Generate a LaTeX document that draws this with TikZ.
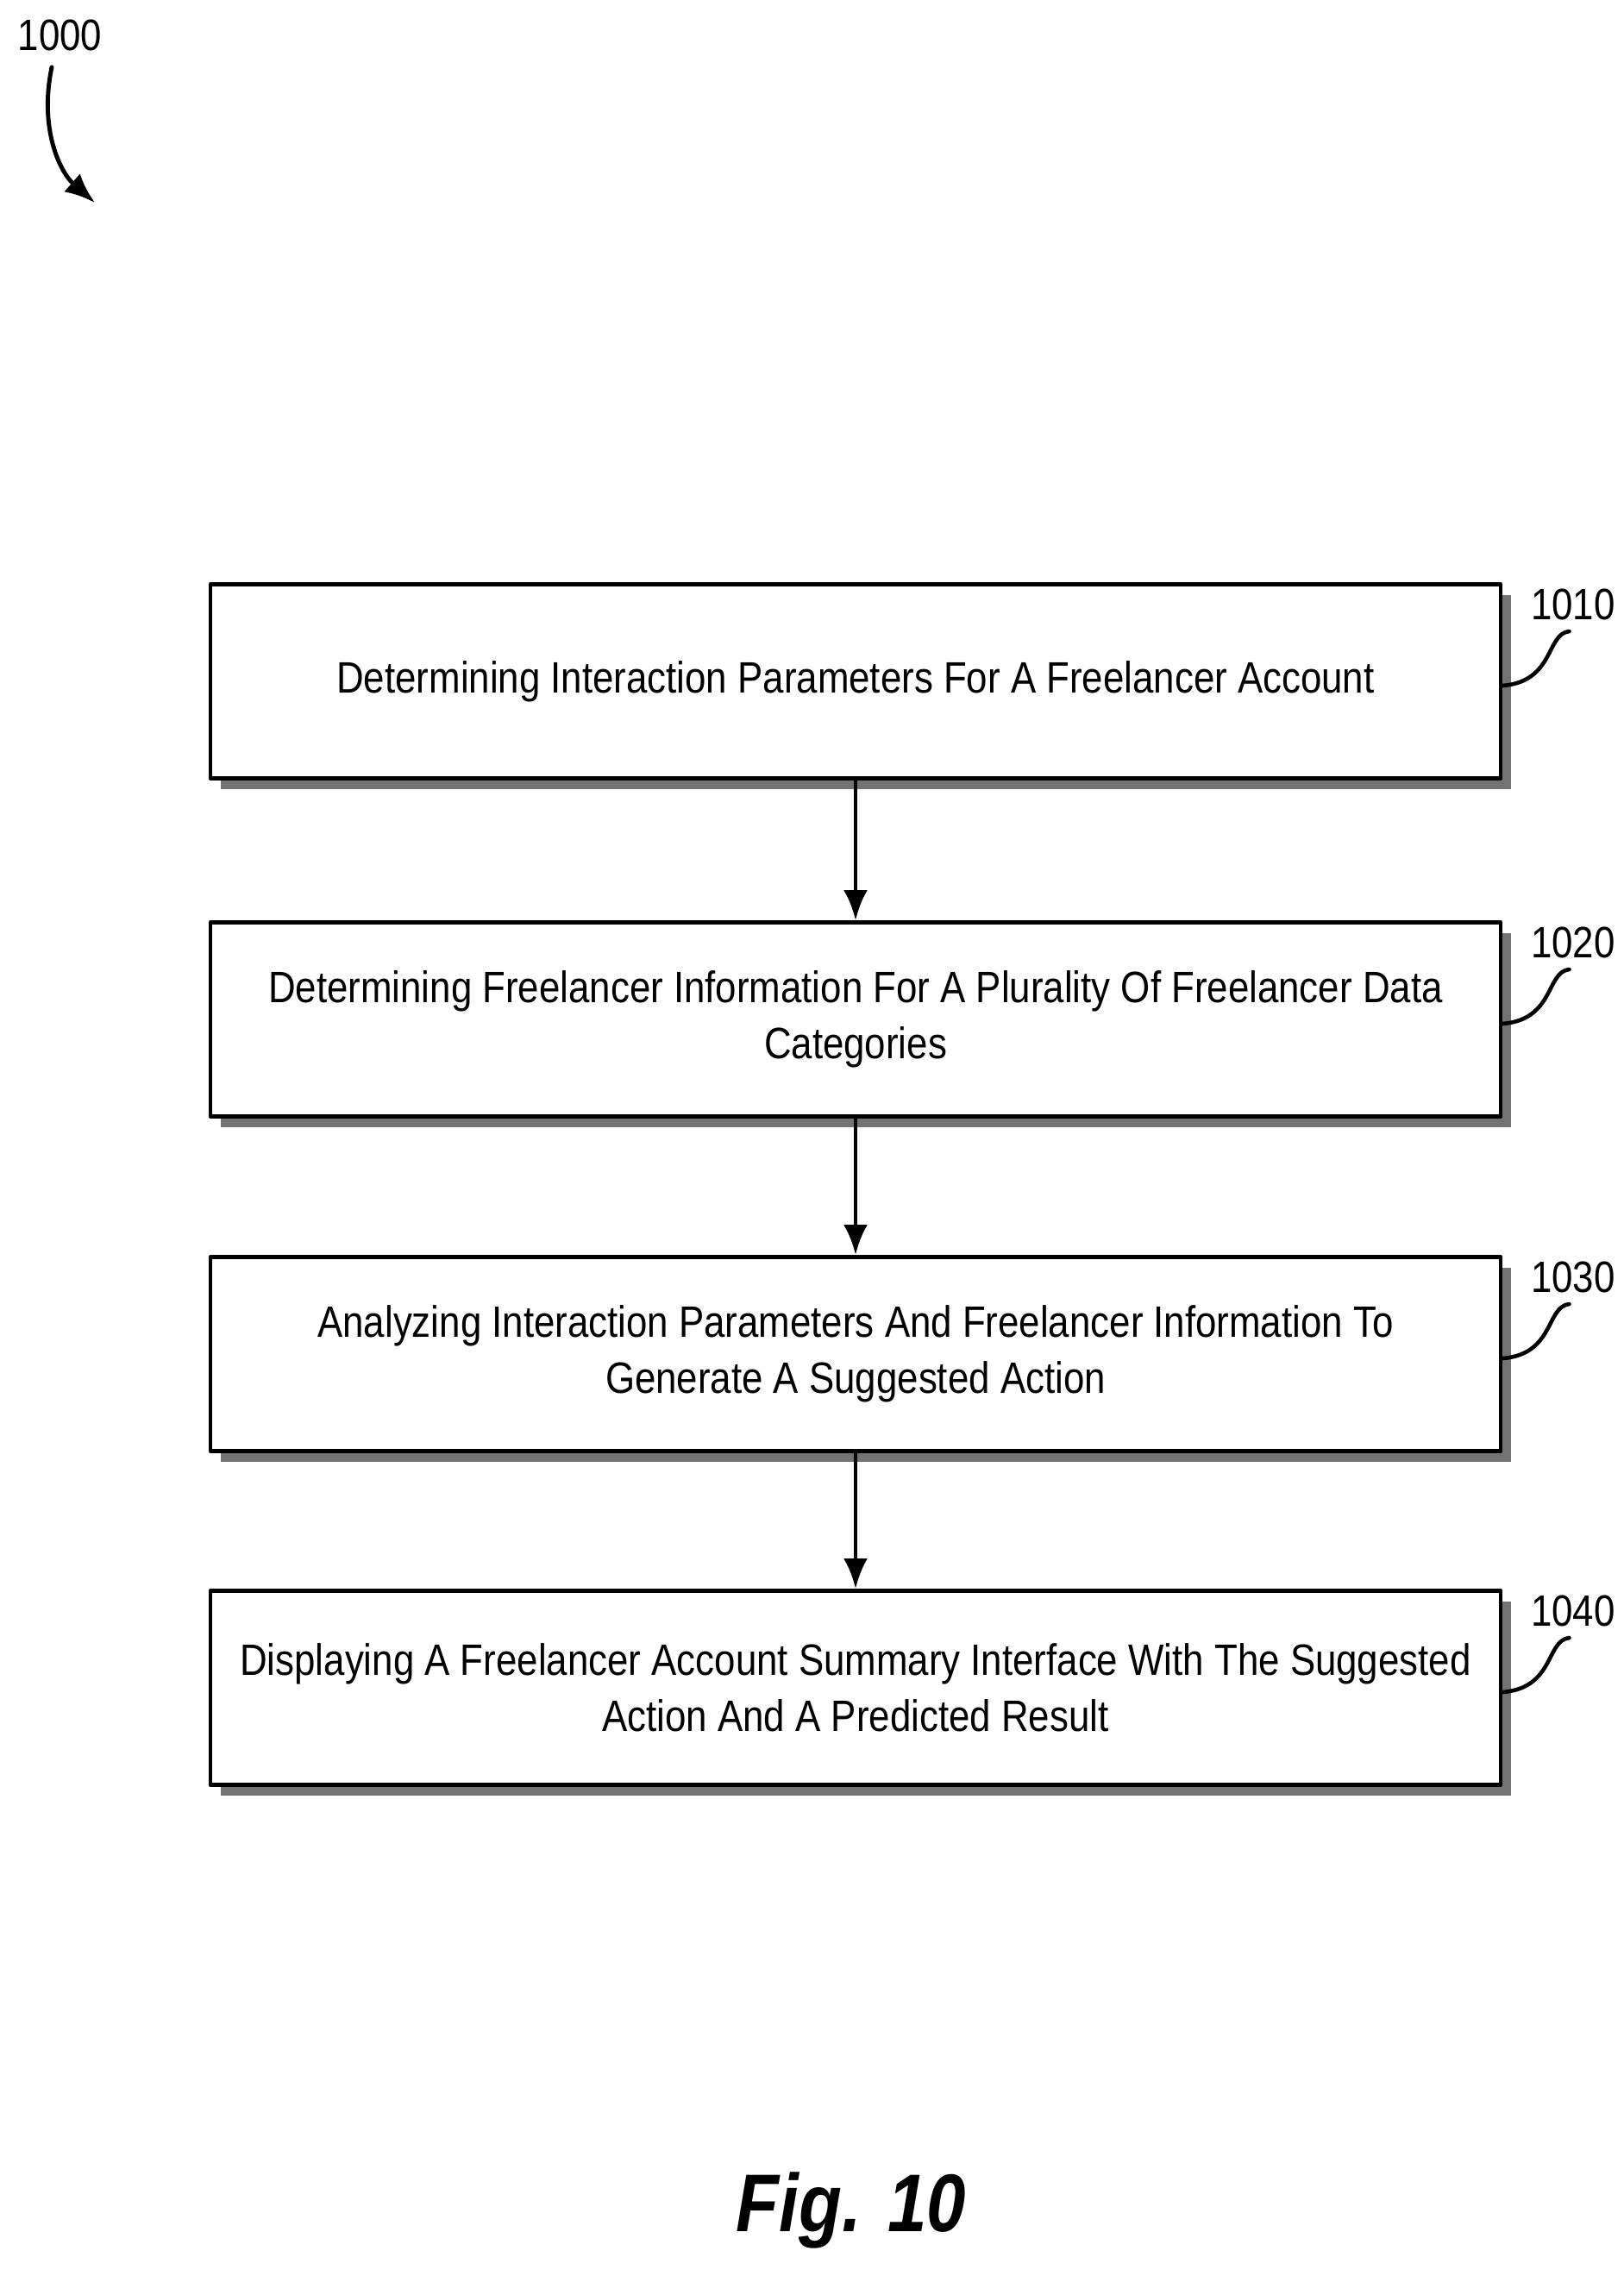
\documentclass[tikz,border=0pt]{standalone}
\usepackage{fontspec}
\setmainfont{Liberation Sans}[FakeStretch=0.86]
\usetikzlibrary{positioning,calc,arrows.meta}
\tikzset{
  stepbox/.style={draw,line width=1.4pt,fill=white,minimum width=14.96cm,minimum height=2.25cm,
    align=center,font=\fontsize{14.5}{18.5}\selectfont,
    preaction={fill=black!55,transform canvas={xshift=1.2mm,yshift=-1.2mm}}},
  tag/.style={font=\fontsize{14.5}{17}\selectfont,anchor=south west,inner sep=0pt},
  flow/.style={-{Latex[length=3.5mm,width=2.8mm]},line width=1.4pt}
}
\begin{document}
\begin{tikzpicture}[line join=round,line cap=round]
\useasboundingbox (0,0) rectangle (18.83,-26.39);
\node[tag] (t1000) at (0.2,-0.6) {1000};
\draw[-{Latex[length=3.5mm,width=2.8mm]},line width=1.4pt] (0.6,-0.78) .. controls (0.45,-1.5) and (0.7,-2.0) .. (1.1,-2.35);
\node[stepbox] (s1) at (9.92,-7.9) {Determining Interaction Parameters For A Freelancer Account};
\node[stepbox] (s2) at (9.92,-11.82) {Determining Freelancer Information For A Plurality Of Freelancer Data\\Categories};
\node[stepbox] (s3) at (9.92,-15.7) {Analyzing Interaction Parameters And Freelancer Information To\\Generate A Suggested Action};
\node[stepbox] (s4) at (9.92,-19.57) {Displaying A Freelancer Account Summary Interface With The Suggested\\Action And A Predicted Result};
\foreach \s/\n in {s1/1010,s2/1020,s3/1030,s4/1040}{
  \node[tag] (t\n) at ($(\s.north east)+(0.32,-0.45)$) {\n};
  \draw[line width=1.3pt] ($(\s.east)+(0,-0.05)$) .. controls ($(\s.east)+(0.6,0)$) and ($(\s.east)+(0.5,0.55)$) .. ($(t\n.south west)+(0.45,-0.12)$);
}
\draw[flow] (s1) -- (s2);
\draw[flow] (s2) -- (s3);
\draw[flow] (s3) -- (s4);
\node[font=\fontsize{27}{30}\bfseries\itshape\selectfont] (fig) at (9.87,-25.63) {Fig. 10};
\end{tikzpicture}
\end{document}
